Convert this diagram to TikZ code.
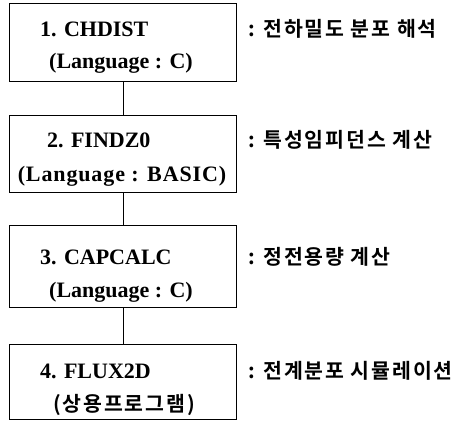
\documentclass[tikz,border=0pt]{standalone}
\usepackage{fontspec}
\setmainfont{Liberation Serif}
\newfontfamily\kor{Noto Sans CJK KR}[BoldFont={* Bold}, LetterSpace=9]
\tikzset{
  box/.style={draw, line width=1.3pt, minimum width=227pt, inner sep=0pt, anchor=north west},
  lt/.style={font=\fontsize{22}{24}\selectfont\bfseries, inner sep=0pt, anchor=base west},
  ct/.style={font=\fontsize{22}{24}\selectfont\bfseries, inner sep=0pt, anchor=base},
  kt/.style={font=\fontsize{20.5}{22}\kor\bfseries, inner sep=0pt, anchor=base west},
  link/.style={line width=0.8pt}
}
\begin{document}
\begin{tikzpicture}[x=1pt,y=-1pt]
\useasboundingbox (0,0) rectangle (458,422);
\node[box, minimum height=78pt] (b1) at (9,3) {};
\node[box, minimum height=77pt] (b2) at (9,115) {};
\node[box, minimum height=82pt] (b3) at (9,225) {};
\node[box, minimum height=75pt] (b4) at (9,344) {};
\draw[link] (b1.south) -- (b2.north);
\draw[link] (b2.south) -- (b3.north);
\draw[link] (b3.south) -- (b4.north);
\node[lt] (t1a) at (40,37) {1. CHDIST};
\node[ct] (t1b) at (121,69) {(Language : C)};
\node[lt] (t2a) at (47,148) {2. FINDZ0};
\node[ct] (t2b) at (122,182) {\addfontfeature{LetterSpace=4}(Language : BASIC)};
\node[lt] (t3a) at (40,265) {3. CAPCALC};
\node[ct] (t3b) at (121,298) {(Language : C)};
\node[lt] (t4a) at (40,378) {4. FLUX2D};
\node[ct, font=\fontsize{20.5}{22}\kor\bfseries] (t4b) at (124,411) {(상용프로그램)};
\node[kt] (k1) at (248,37) {: 전하밀도 분포 해석};
\node[kt] (k2) at (248,148) {: 특성임피던스 계산};
\node[kt] (k3) at (248,265) {: 정전용량 계산};
\node[kt] (k4) at (248,378) {: 전계분포 시뮬레이션};
\end{tikzpicture}
\end{document}
